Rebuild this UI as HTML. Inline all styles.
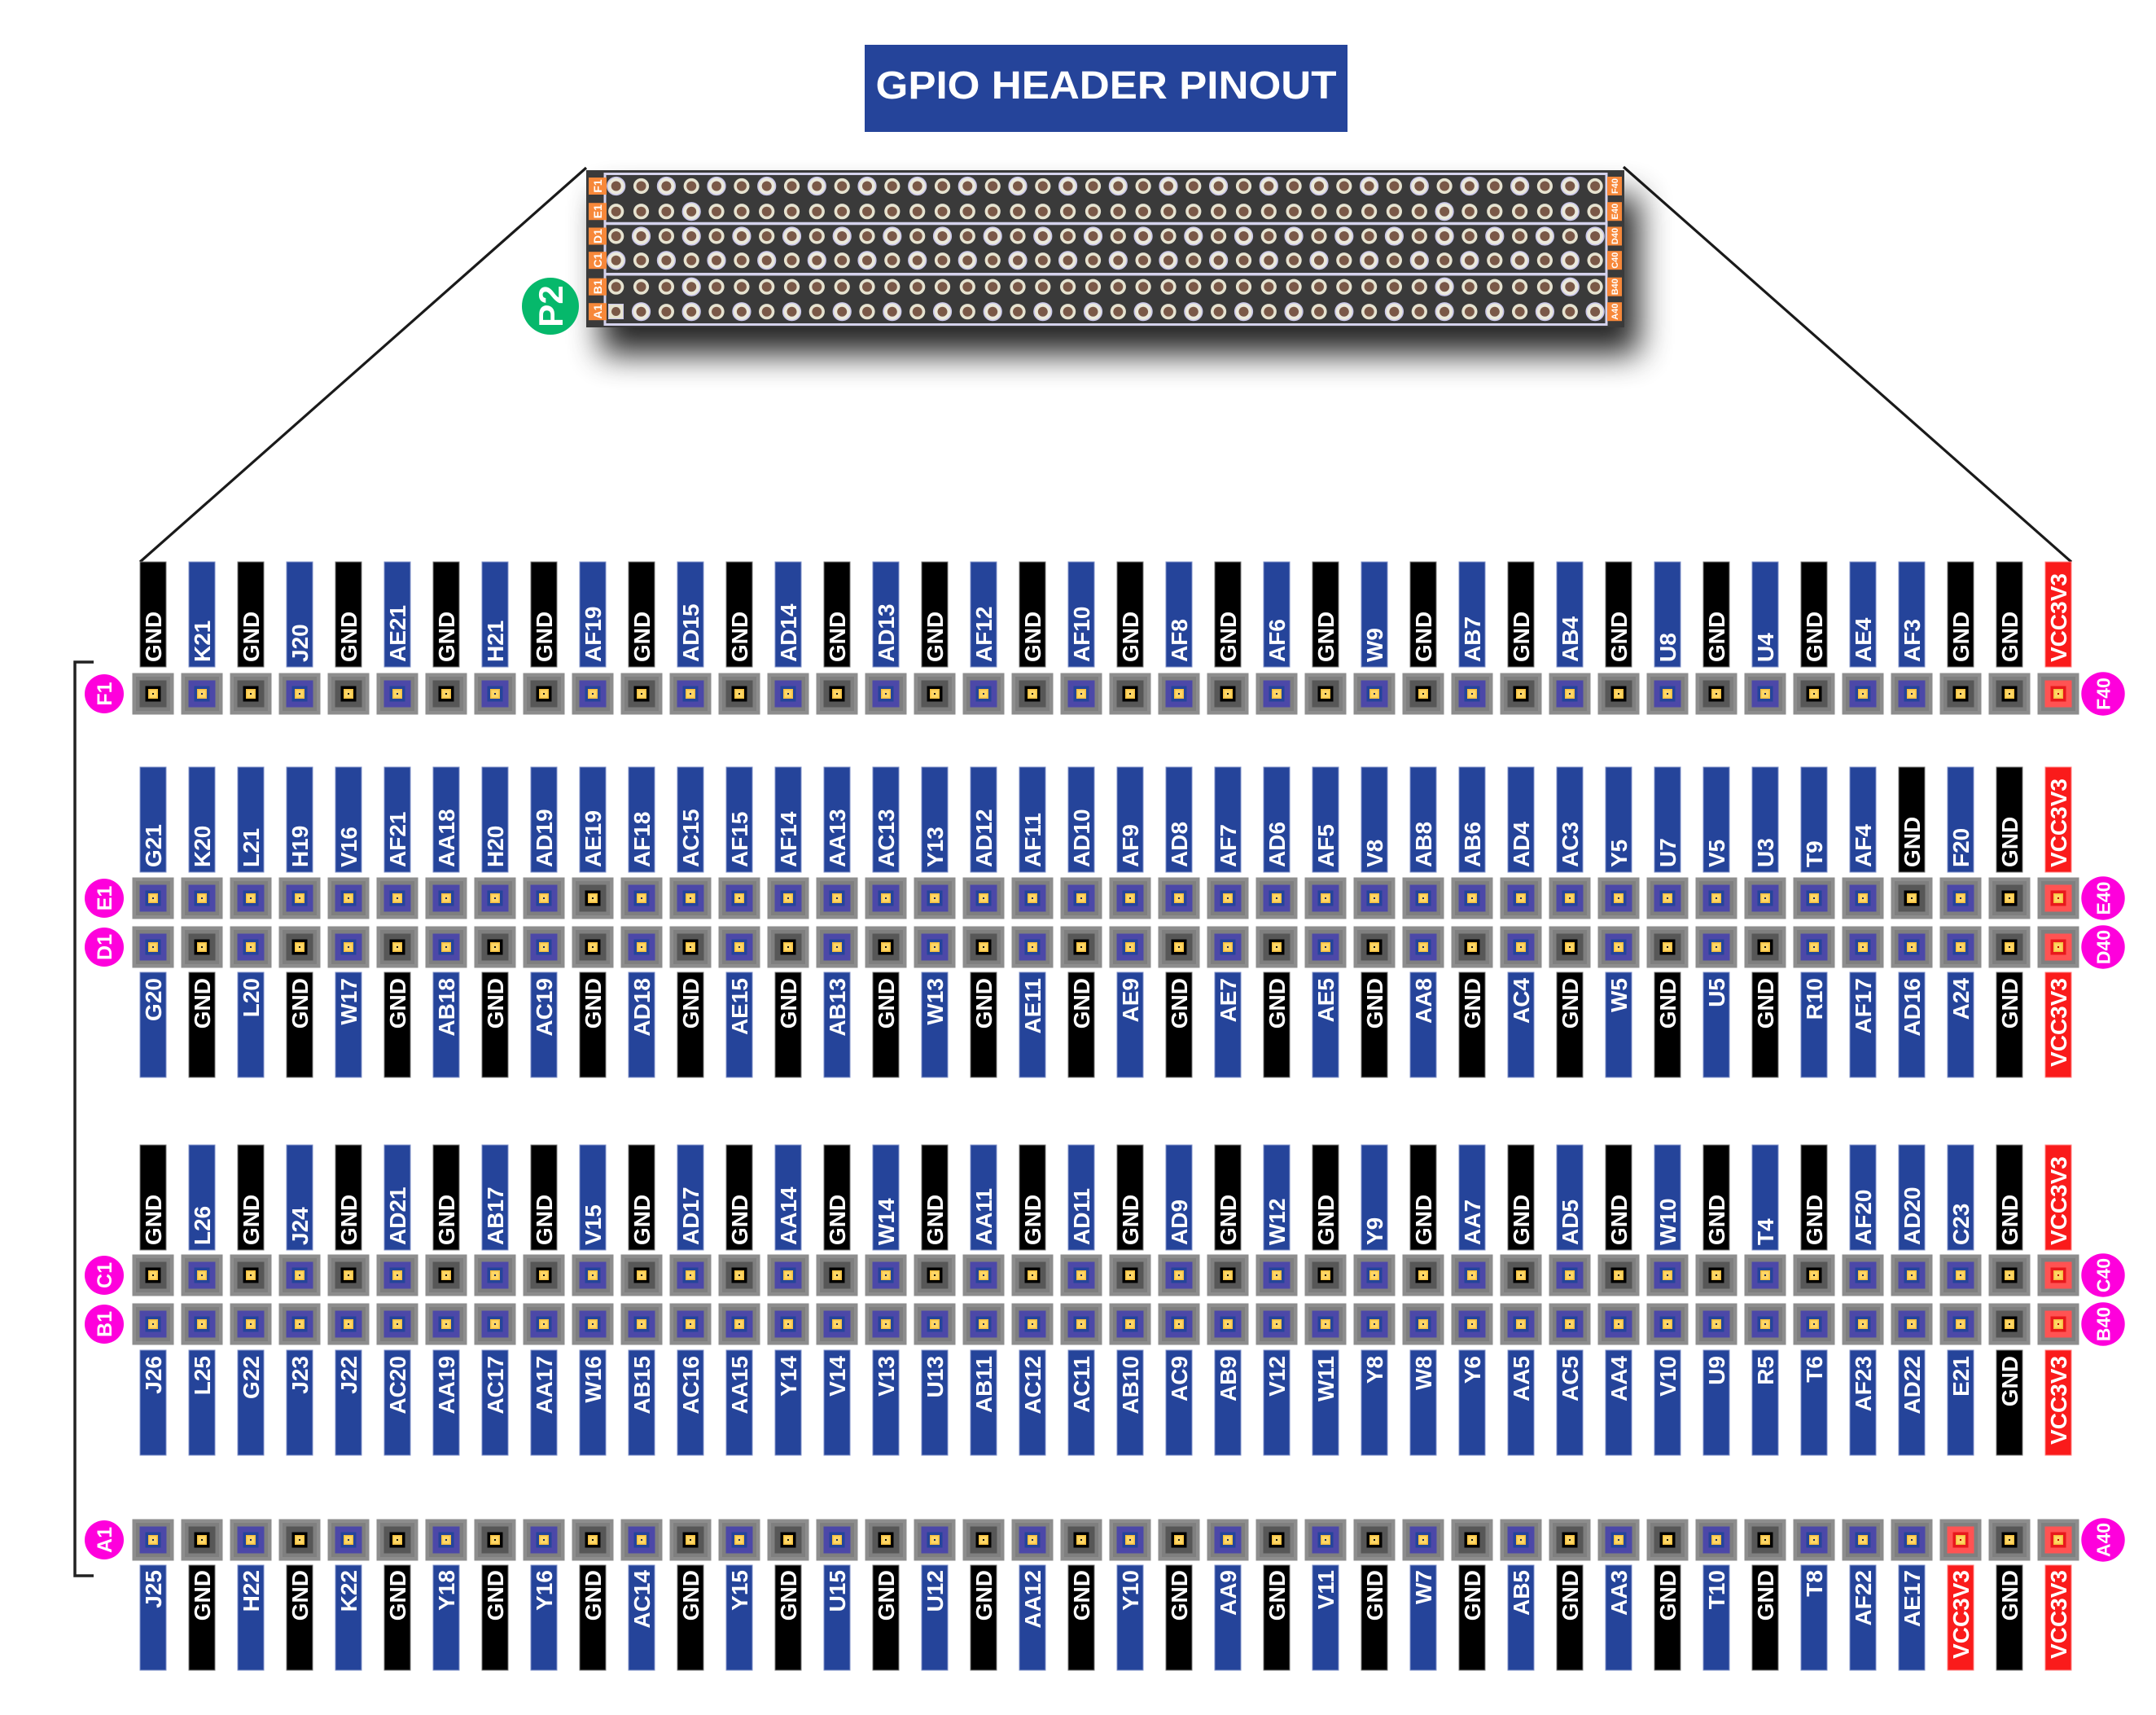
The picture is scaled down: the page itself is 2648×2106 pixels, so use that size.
<!DOCTYPE html>
<html><head><meta charset="utf-8"><title>GPIO Header Pinout</title>
<style>
html,body{margin:0;padding:0;background:#fff;}
svg{display:block;}
.b{fill:#25449a;stroke:#7f90c8;stroke-width:1;}
.k{fill:#000;stroke:#777;stroke-width:1;}
.r{fill:#fa1b1b;stroke:#ff8080;stroke-width:1;}
.t text{font-family:"Liberation Sans",sans-serif;font-weight:bold;font-size:28px;fill:#fff;}
.lab text{font-family:"Liberation Sans",sans-serif;font-weight:bold;fill:#fff;}
</style></head>
<body>
<svg width="2648" height="2106" viewBox="0 0 2648 2106" xmlns="http://www.w3.org/2000/svg">
<defs>
<g id="ps"><rect x="-25.5" y="-25.5" width="51" height="51" fill="#8d8d8d"/><rect x="-21" y="-21" width="42" height="42" fill="#7f7f7f"/><rect x="-16.5" y="-16.5" width="33" height="33" fill="#4c48a8"/><rect x="-9.5" y="-9.5" width="19" height="19" fill="#25449a"/><rect x="-6" y="-6" width="12" height="12" fill="#f5c040"/><rect x="-4.5" y="-4.5" width="9" height="9" fill="#ffd766"/><rect x="-1" y="-1" width="2" height="2" fill="#1d2a5a"/></g>
<g id="pg"><rect x="-25.5" y="-25.5" width="51" height="51" fill="#8d8d8d"/><rect x="-21" y="-21" width="42" height="42" fill="#7f7f7f"/><rect x="-16.5" y="-16.5" width="33" height="33" fill="#575757"/><rect x="-9.5" y="-9.5" width="19" height="19" fill="#000"/><rect x="-6" y="-6" width="12" height="12" fill="#f5c040"/><rect x="-4.5" y="-4.5" width="9" height="9" fill="#ffd766"/><rect x="-1" y="-1" width="2" height="2" fill="#111"/></g>
<g id="pv"><rect x="-25.5" y="-25.5" width="51" height="51" fill="#8d8d8d"/><rect x="-21" y="-21" width="42" height="42" fill="#7f7f7f"/><rect x="-16.5" y="-16.5" width="33" height="33" fill="#ff5353"/><rect x="-9.5" y="-9.5" width="19" height="19" fill="#e8191c"/><rect x="-6" y="-6" width="12" height="12" fill="#f5c040"/><rect x="-4.5" y="-4.5" width="9" height="9" fill="#ffd766"/><rect x="-1" y="-1" width="2" height="2" fill="#b00"/></g>
<g id="h"><circle r="9.6" fill="#e6e3d0"/><circle r="6" fill="#7a5847"/></g>
<g id="H"><circle r="10.8" fill="#ebe9dc" stroke="#c9c6ea" stroke-width="1.6"/><circle r="6" fill="#7a5847"/></g>
<g id="hrA">
<use href="#H" x="756.7"/><use href="#h" x="787.5"/><use href="#H" x="818.4"/><use href="#h" x="849.2"/><use href="#H" x="880"/><use href="#h" x="910.9"/><use href="#H" x="941.7"/><use href="#h" x="972.5"/><use href="#H" x="1003.3"/><use href="#h" x="1034.2"/><use href="#H" x="1065"/><use href="#h" x="1095.8"/><use href="#H" x="1126.7"/><use href="#h" x="1157.5"/><use href="#H" x="1188.3"/><use href="#h" x="1219.2"/><use href="#H" x="1250"/><use href="#h" x="1280.8"/><use href="#H" x="1311.6"/><use href="#h" x="1342.5"/><use href="#H" x="1373.3"/><use href="#h" x="1404.1"/><use href="#H" x="1435"/><use href="#h" x="1465.8"/><use href="#H" x="1496.6"/><use href="#h" x="1527.5"/><use href="#H" x="1558.3"/><use href="#h" x="1589.1"/><use href="#H" x="1620"/><use href="#h" x="1650.8"/><use href="#H" x="1681.6"/><use href="#h" x="1712.4"/><use href="#H" x="1743.3"/><use href="#h" x="1774.1"/><use href="#H" x="1804.9"/><use href="#h" x="1835.8"/><use href="#H" x="1866.6"/><use href="#h" x="1897.4"/><use href="#H" x="1928.3"/><use href="#h" x="1959.1"/>
</g>
<g id="hrB">
<use href="#h" x="756.7"/><use href="#H" x="787.5"/><use href="#h" x="818.4"/><use href="#H" x="849.2"/><use href="#h" x="880"/><use href="#H" x="910.9"/><use href="#h" x="941.7"/><use href="#H" x="972.5"/><use href="#h" x="1003.3"/><use href="#H" x="1034.2"/><use href="#h" x="1065"/><use href="#H" x="1095.8"/><use href="#h" x="1126.7"/><use href="#H" x="1157.5"/><use href="#h" x="1188.3"/><use href="#H" x="1219.2"/><use href="#h" x="1250"/><use href="#H" x="1280.8"/><use href="#h" x="1311.6"/><use href="#H" x="1342.5"/><use href="#h" x="1373.3"/><use href="#H" x="1404.1"/><use href="#h" x="1435"/><use href="#H" x="1465.8"/><use href="#h" x="1496.6"/><use href="#H" x="1527.5"/><use href="#h" x="1558.3"/><use href="#H" x="1589.1"/><use href="#h" x="1620"/><use href="#H" x="1650.8"/><use href="#h" x="1681.6"/><use href="#H" x="1712.4"/><use href="#h" x="1743.3"/><use href="#H" x="1774.1"/><use href="#h" x="1804.9"/><use href="#H" x="1835.8"/><use href="#h" x="1866.6"/><use href="#H" x="1897.4"/><use href="#h" x="1928.3"/><use href="#H" x="1959.1"/>
</g>
<g id="hrC">
<use href="#h" x="756.7"/><use href="#h" x="787.5"/><use href="#h" x="818.4"/><use href="#H" x="849.2"/><use href="#h" x="880"/><use href="#h" x="910.9"/><use href="#h" x="941.7"/><use href="#h" x="972.5"/><use href="#h" x="1003.3"/><use href="#h" x="1034.2"/><use href="#h" x="1065"/><use href="#h" x="1095.8"/><use href="#h" x="1126.7"/><use href="#h" x="1157.5"/><use href="#h" x="1188.3"/><use href="#h" x="1219.2"/><use href="#h" x="1250"/><use href="#h" x="1280.8"/><use href="#h" x="1311.6"/><use href="#h" x="1342.5"/><use href="#h" x="1373.3"/><use href="#h" x="1404.1"/><use href="#h" x="1435"/><use href="#h" x="1465.8"/><use href="#h" x="1496.6"/><use href="#h" x="1527.5"/><use href="#h" x="1558.3"/><use href="#h" x="1589.1"/><use href="#h" x="1620"/><use href="#h" x="1650.8"/><use href="#h" x="1681.6"/><use href="#h" x="1712.4"/><use href="#h" x="1743.3"/><use href="#H" x="1774.1"/><use href="#h" x="1804.9"/><use href="#h" x="1835.8"/><use href="#h" x="1866.6"/><use href="#h" x="1897.4"/><use href="#H" x="1928.3"/><use href="#h" x="1959.1"/>
</g>
<filter id="sh" x="-10%" y="-50%" width="120%" height="200%"><feGaussianBlur stdDeviation="20"/></filter>
</defs>

<!-- Title -->
<rect x="1062" y="55" width="593" height="107" fill="#25449a"/>
<text x="1358.5" y="121" font-family="Liberation Sans, sans-serif" font-weight="bold" font-size="48" fill="#fff" text-anchor="middle" textLength="566" lengthAdjust="spacingAndGlyphs">GPIO HEADER PINOUT</text>

<!-- Connector lines -->
<line x1="172" y1="690" x2="720" y2="206" stroke="#1a1a1a" stroke-width="3.2"/>
<line x1="2544" y1="690" x2="1994" y2="205" stroke="#1a1a1a" stroke-width="3.2"/>

<!-- Board -->
<rect x="738" y="240" width="1275" height="195" fill="#000" opacity="0.85" filter="url(#sh)"/>
<rect x="720" y="209" width="1275" height="193" fill="#3a3a3a"/>
<rect x="743" y="213.5" width="1230" height="185" fill="none" stroke="#d4d2ec" stroke-width="3"/>
<line x1="743" y1="274.5" x2="1973" y2="274.5" stroke="#d4d2ec" stroke-width="3.5"/>
<line x1="743" y1="336.7" x2="1973" y2="336.7" stroke="#d4d2ec" stroke-width="3.5"/>
<use href="#hrA" y="228.5"/>
<use href="#hrC" y="259.7"/>
<use href="#hrB" y="290"/>
<use href="#hrA" y="319.7"/>
<use href="#hrC" y="352.2"/>
<use href="#hrB" y="382.7"/>
<rect x="745.5" y="371.5" width="22" height="22" fill="#3a3a3a"/>
<rect x="747.5" y="373.5" width="18" height="18" fill="#e6e3d0" stroke="#c9c6ea" stroke-width="1"/>
<circle cx="756.5" cy="382.5" r="5.5" fill="#7a5847"/>

<!-- orange side labels -->
<g fill="#f7883a">
<rect x="723" y="218" width="22" height="21"/><rect x="723" y="249.2" width="22" height="21"/><rect x="723" y="279.5" width="22" height="21"/><rect x="723" y="309.2" width="22" height="21"/><rect x="723" y="341.7" width="22" height="21"/><rect x="723" y="372.2" width="22" height="21"/>
<rect x="1974" y="217" width="18" height="23"/><rect x="1974" y="248.2" width="18" height="23"/><rect x="1974" y="278.5" width="18" height="23"/><rect x="1974" y="308.2" width="18" height="23"/><rect x="1974" y="340.7" width="18" height="23"/><rect x="1974" y="371.2" width="18" height="23"/>
</g>
<g class="lab" transform="rotate(-90)" text-anchor="middle" font-size="14">
<text x="-228.5" y="739">F1</text><text x="-259.7" y="739">E1</text><text x="-290" y="739">D1</text><text x="-319.7" y="739">C1</text><text x="-352.2" y="739">B1</text><text x="-382.7" y="739">A1</text>
</g>
<g class="lab" transform="rotate(-90)" text-anchor="middle" font-size="11">
<text x="-228.5" y="1987">F40</text><text x="-259.7" y="1987">E40</text><text x="-290" y="1987">D40</text><text x="-319.7" y="1987">C40</text><text x="-352.2" y="1987">B40</text><text x="-382.7" y="1987">A40</text>
</g>

<!-- P2 badge -->
<circle cx="676" cy="376" r="35" fill="#06b86b"/>
<g class="lab" transform="rotate(-90)" text-anchor="middle" font-size="42"><text x="-376" y="691">P2</text></g>

<!-- Bracket -->
<path d="M115 813 H92 V1935 H115" fill="none" stroke="#222" stroke-width="3.5"/>

<!-- Row badges -->
<g fill="#fe00dc">
<circle cx="128" cy="852" r="24"/><circle cx="128" cy="1103" r="24"/><circle cx="128" cy="1163" r="24"/><circle cx="128" cy="1566" r="24"/><circle cx="128" cy="1626" r="24"/><circle cx="128" cy="1891" r="24"/>
<circle cx="2583" cy="852" r="26.7"/><circle cx="2583" cy="1103" r="26.7"/><circle cx="2583" cy="1163" r="26.7"/><circle cx="2583" cy="1566" r="26.7"/><circle cx="2583" cy="1626" r="26.7"/><circle cx="2583" cy="1891" r="26.7"/>
</g>
<g class="lab" transform="rotate(-90)" text-anchor="middle" font-size="25">
<text x="-852" y="137">F1</text><text x="-1103" y="137">E1</text><text x="-1163" y="137">D1</text><text x="-1566" y="137">C1</text><text x="-1626" y="137">B1</text><text x="-1891" y="137">A1</text>
</g>
<g class="lab" transform="rotate(-90)" text-anchor="middle" font-size="23">
<text x="-852" y="2591.5">F40</text><text x="-1103" y="2591.5">E40</text><text x="-1163" y="2591.5">D40</text><text x="-1566" y="2591.5">C40</text><text x="-1626" y="2591.5">B40</text><text x="-1891" y="2591.5">A40</text>
</g>

<!-- ===== ROW F bars ===== -->
<g>
<rect x="172" y="690" width="32" height="129" class="k"/><rect x="232" y="690" width="32" height="129" class="b"/><rect x="292" y="690" width="32" height="129" class="k"/><rect x="352" y="690" width="32" height="129" class="b"/><rect x="412" y="690" width="32" height="129" class="k"/><rect x="472" y="690" width="32" height="129" class="b"/><rect x="532" y="690" width="32" height="129" class="k"/><rect x="592" y="690" width="32" height="129" class="b"/><rect x="652" y="690" width="32" height="129" class="k"/><rect x="712" y="690" width="32" height="129" class="b"/><rect x="772" y="690" width="32" height="129" class="k"/><rect x="832" y="690" width="32" height="129" class="b"/><rect x="892" y="690" width="32" height="129" class="k"/><rect x="952" y="690" width="32" height="129" class="b"/><rect x="1012" y="690" width="32" height="129" class="k"/><rect x="1072" y="690" width="32" height="129" class="b"/><rect x="1132" y="690" width="32" height="129" class="k"/><rect x="1192" y="690" width="32" height="129" class="b"/><rect x="1252" y="690" width="32" height="129" class="k"/><rect x="1312" y="690" width="32" height="129" class="b"/><rect x="1372" y="690" width="32" height="129" class="k"/><rect x="1432" y="690" width="32" height="129" class="b"/><rect x="1492" y="690" width="32" height="129" class="k"/><rect x="1552" y="690" width="32" height="129" class="b"/><rect x="1612" y="690" width="32" height="129" class="k"/><rect x="1672" y="690" width="32" height="129" class="b"/><rect x="1732" y="690" width="32" height="129" class="k"/><rect x="1792" y="690" width="32" height="129" class="b"/><rect x="1852" y="690" width="32" height="129" class="k"/><rect x="1912" y="690" width="32" height="129" class="b"/><rect x="1972" y="690" width="32" height="129" class="k"/><rect x="2032" y="690" width="32" height="129" class="b"/><rect x="2092" y="690" width="32" height="129" class="k"/><rect x="2152" y="690" width="32" height="129" class="b"/><rect x="2212" y="690" width="32" height="129" class="k"/><rect x="2272" y="690" width="32" height="129" class="b"/><rect x="2332" y="690" width="32" height="129" class="b"/><rect x="2392" y="690" width="32" height="129" class="k"/><rect x="2452" y="690" width="32" height="129" class="k"/><rect x="2512" y="690" width="32" height="129" class="r"/>
</g>
<g class="t" transform="rotate(-90)">
<text x="-813" y="198">GND</text><text x="-813" y="258">K21</text><text x="-813" y="318">GND</text><text x="-813" y="378">J20</text><text x="-813" y="438">GND</text><text x="-813" y="498">AE21</text><text x="-813" y="558">GND</text><text x="-813" y="618">H21</text><text x="-813" y="678">GND</text><text x="-813" y="738">AF19</text><text x="-813" y="798">GND</text><text x="-813" y="858">AD15</text><text x="-813" y="918">GND</text><text x="-813" y="978">AD14</text><text x="-813" y="1038">GND</text><text x="-813" y="1098">AD13</text><text x="-813" y="1158">GND</text><text x="-813" y="1218">AF12</text><text x="-813" y="1278">GND</text><text x="-813" y="1338">AF10</text><text x="-813" y="1398">GND</text><text x="-813" y="1458">AF8</text><text x="-813" y="1518">GND</text><text x="-813" y="1578">AF6</text><text x="-813" y="1638">GND</text><text x="-813" y="1698">W9</text><text x="-813" y="1758">GND</text><text x="-813" y="1818">AB7</text><text x="-813" y="1878">GND</text><text x="-813" y="1938">AB4</text><text x="-813" y="1998">GND</text><text x="-813" y="2058">U8</text><text x="-813" y="2118">GND</text><text x="-813" y="2178">U4</text><text x="-813" y="2238">GND</text><text x="-813" y="2298">AE4</text><text x="-813" y="2358">AF3</text><text x="-813" y="2418">GND</text><text x="-813" y="2478">GND</text><text x="-813" y="2538">VCC3V3</text>
</g>
<g>
<use href="#pg" x="188" y="852"/><use href="#ps" x="248" y="852"/><use href="#pg" x="308" y="852"/><use href="#ps" x="368" y="852"/><use href="#pg" x="428" y="852"/><use href="#ps" x="488" y="852"/><use href="#pg" x="548" y="852"/><use href="#ps" x="608" y="852"/><use href="#pg" x="668" y="852"/><use href="#ps" x="728" y="852"/><use href="#pg" x="788" y="852"/><use href="#ps" x="848" y="852"/><use href="#pg" x="908" y="852"/><use href="#ps" x="968" y="852"/><use href="#pg" x="1028" y="852"/><use href="#ps" x="1088" y="852"/><use href="#pg" x="1148" y="852"/><use href="#ps" x="1208" y="852"/><use href="#pg" x="1268" y="852"/><use href="#ps" x="1328" y="852"/><use href="#pg" x="1388" y="852"/><use href="#ps" x="1448" y="852"/><use href="#pg" x="1508" y="852"/><use href="#ps" x="1568" y="852"/><use href="#pg" x="1628" y="852"/><use href="#ps" x="1688" y="852"/><use href="#pg" x="1748" y="852"/><use href="#ps" x="1808" y="852"/><use href="#pg" x="1868" y="852"/><use href="#ps" x="1928" y="852"/><use href="#pg" x="1988" y="852"/><use href="#ps" x="2048" y="852"/><use href="#pg" x="2108" y="852"/><use href="#ps" x="2168" y="852"/><use href="#pg" x="2228" y="852"/><use href="#ps" x="2288" y="852"/><use href="#ps" x="2348" y="852"/><use href="#pg" x="2408" y="852"/><use href="#pg" x="2468" y="852"/><use href="#pv" x="2528" y="852"/>
</g>

<!-- ===== ROW E ===== -->
<g>
<rect x="172" y="942" width="32" height="129" class="b"/><rect x="232" y="942" width="32" height="129" class="b"/><rect x="292" y="942" width="32" height="129" class="b"/><rect x="352" y="942" width="32" height="129" class="b"/><rect x="412" y="942" width="32" height="129" class="b"/><rect x="472" y="942" width="32" height="129" class="b"/><rect x="532" y="942" width="32" height="129" class="b"/><rect x="592" y="942" width="32" height="129" class="b"/><rect x="652" y="942" width="32" height="129" class="b"/><rect x="712" y="942" width="32" height="129" class="b"/><rect x="772" y="942" width="32" height="129" class="b"/><rect x="832" y="942" width="32" height="129" class="b"/><rect x="892" y="942" width="32" height="129" class="b"/><rect x="952" y="942" width="32" height="129" class="b"/><rect x="1012" y="942" width="32" height="129" class="b"/><rect x="1072" y="942" width="32" height="129" class="b"/><rect x="1132" y="942" width="32" height="129" class="b"/><rect x="1192" y="942" width="32" height="129" class="b"/><rect x="1252" y="942" width="32" height="129" class="b"/><rect x="1312" y="942" width="32" height="129" class="b"/><rect x="1372" y="942" width="32" height="129" class="b"/><rect x="1432" y="942" width="32" height="129" class="b"/><rect x="1492" y="942" width="32" height="129" class="b"/><rect x="1552" y="942" width="32" height="129" class="b"/><rect x="1612" y="942" width="32" height="129" class="b"/><rect x="1672" y="942" width="32" height="129" class="b"/><rect x="1732" y="942" width="32" height="129" class="b"/><rect x="1792" y="942" width="32" height="129" class="b"/><rect x="1852" y="942" width="32" height="129" class="b"/><rect x="1912" y="942" width="32" height="129" class="b"/><rect x="1972" y="942" width="32" height="129" class="b"/><rect x="2032" y="942" width="32" height="129" class="b"/><rect x="2092" y="942" width="32" height="129" class="b"/><rect x="2152" y="942" width="32" height="129" class="b"/><rect x="2212" y="942" width="32" height="129" class="b"/><rect x="2272" y="942" width="32" height="129" class="b"/><rect x="2332" y="942" width="32" height="129" class="k"/><rect x="2392" y="942" width="32" height="129" class="b"/><rect x="2452" y="942" width="32" height="129" class="k"/><rect x="2512" y="942" width="32" height="129" class="r"/>
</g>
<g class="t" transform="rotate(-90)">
<text x="-1065" y="198">G21</text><text x="-1065" y="258">K20</text><text x="-1065" y="318">L21</text><text x="-1065" y="378">H19</text><text x="-1065" y="438">V16</text><text x="-1065" y="498">AF21</text><text x="-1065" y="558">AA18</text><text x="-1065" y="618">H20</text><text x="-1065" y="678">AD19</text><text x="-1065" y="738">AE19</text><text x="-1065" y="798">AF18</text><text x="-1065" y="858">AC15</text><text x="-1065" y="918">AF15</text><text x="-1065" y="978">AF14</text><text x="-1065" y="1038">AA13</text><text x="-1065" y="1098">AC13</text><text x="-1065" y="1158">Y13</text><text x="-1065" y="1218">AD12</text><text x="-1065" y="1278">AF11</text><text x="-1065" y="1338">AD10</text><text x="-1065" y="1398">AF9</text><text x="-1065" y="1458">AD8</text><text x="-1065" y="1518">AF7</text><text x="-1065" y="1578">AD6</text><text x="-1065" y="1638">AF5</text><text x="-1065" y="1698">V8</text><text x="-1065" y="1758">AB8</text><text x="-1065" y="1818">AB6</text><text x="-1065" y="1878">AD4</text><text x="-1065" y="1938">AC3</text><text x="-1065" y="1998">Y5</text><text x="-1065" y="2058">U7</text><text x="-1065" y="2118">V5</text><text x="-1065" y="2178">U3</text><text x="-1065" y="2238">T9</text><text x="-1065" y="2298">AF4</text><text x="-1065" y="2358">GND</text><text x="-1065" y="2418">F20</text><text x="-1065" y="2478">GND</text><text x="-1065" y="2538">VCC3V3</text>
</g>
<g>
<use href="#ps" x="188" y="1103"/><use href="#ps" x="248" y="1103"/><use href="#ps" x="308" y="1103"/><use href="#ps" x="368" y="1103"/><use href="#ps" x="428" y="1103"/><use href="#ps" x="488" y="1103"/><use href="#ps" x="548" y="1103"/><use href="#ps" x="608" y="1103"/><use href="#ps" x="668" y="1103"/><use href="#pg" x="728" y="1103"/><use href="#ps" x="788" y="1103"/><use href="#ps" x="848" y="1103"/><use href="#ps" x="908" y="1103"/><use href="#ps" x="968" y="1103"/><use href="#ps" x="1028" y="1103"/><use href="#ps" x="1088" y="1103"/><use href="#ps" x="1148" y="1103"/><use href="#ps" x="1208" y="1103"/><use href="#ps" x="1268" y="1103"/><use href="#ps" x="1328" y="1103"/><use href="#ps" x="1388" y="1103"/><use href="#ps" x="1448" y="1103"/><use href="#ps" x="1508" y="1103"/><use href="#ps" x="1568" y="1103"/><use href="#ps" x="1628" y="1103"/><use href="#ps" x="1688" y="1103"/><use href="#ps" x="1748" y="1103"/><use href="#ps" x="1808" y="1103"/><use href="#ps" x="1868" y="1103"/><use href="#ps" x="1928" y="1103"/><use href="#ps" x="1988" y="1103"/><use href="#ps" x="2048" y="1103"/><use href="#ps" x="2108" y="1103"/><use href="#ps" x="2168" y="1103"/><use href="#ps" x="2228" y="1103"/><use href="#ps" x="2288" y="1103"/><use href="#pg" x="2348" y="1103"/><use href="#ps" x="2408" y="1103"/><use href="#pg" x="2468" y="1103"/><use href="#pv" x="2528" y="1103"/>
</g>

<!-- ===== ROW D ===== -->
<g>
<use href="#ps" x="188" y="1163"/><use href="#pg" x="248" y="1163"/><use href="#ps" x="308" y="1163"/><use href="#pg" x="368" y="1163"/><use href="#ps" x="428" y="1163"/><use href="#pg" x="488" y="1163"/><use href="#ps" x="548" y="1163"/><use href="#pg" x="608" y="1163"/><use href="#ps" x="668" y="1163"/><use href="#pg" x="728" y="1163"/><use href="#ps" x="788" y="1163"/><use href="#pg" x="848" y="1163"/><use href="#ps" x="908" y="1163"/><use href="#pg" x="968" y="1163"/><use href="#ps" x="1028" y="1163"/><use href="#pg" x="1088" y="1163"/><use href="#ps" x="1148" y="1163"/><use href="#pg" x="1208" y="1163"/><use href="#ps" x="1268" y="1163"/><use href="#pg" x="1328" y="1163"/><use href="#ps" x="1388" y="1163"/><use href="#pg" x="1448" y="1163"/><use href="#ps" x="1508" y="1163"/><use href="#pg" x="1568" y="1163"/><use href="#ps" x="1628" y="1163"/><use href="#pg" x="1688" y="1163"/><use href="#ps" x="1748" y="1163"/><use href="#pg" x="1808" y="1163"/><use href="#ps" x="1868" y="1163"/><use href="#pg" x="1928" y="1163"/><use href="#ps" x="1988" y="1163"/><use href="#pg" x="2048" y="1163"/><use href="#ps" x="2108" y="1163"/><use href="#pg" x="2168" y="1163"/><use href="#ps" x="2228" y="1163"/><use href="#ps" x="2288" y="1163"/><use href="#ps" x="2348" y="1163"/><use href="#ps" x="2408" y="1163"/><use href="#pg" x="2468" y="1163"/><use href="#pv" x="2528" y="1163"/>
</g>
<g>
<rect x="172" y="1194" width="32" height="129" class="b"/><rect x="232" y="1194" width="32" height="129" class="k"/><rect x="292" y="1194" width="32" height="129" class="b"/><rect x="352" y="1194" width="32" height="129" class="k"/><rect x="412" y="1194" width="32" height="129" class="b"/><rect x="472" y="1194" width="32" height="129" class="k"/><rect x="532" y="1194" width="32" height="129" class="b"/><rect x="592" y="1194" width="32" height="129" class="k"/><rect x="652" y="1194" width="32" height="129" class="b"/><rect x="712" y="1194" width="32" height="129" class="k"/><rect x="772" y="1194" width="32" height="129" class="b"/><rect x="832" y="1194" width="32" height="129" class="k"/><rect x="892" y="1194" width="32" height="129" class="b"/><rect x="952" y="1194" width="32" height="129" class="k"/><rect x="1012" y="1194" width="32" height="129" class="b"/><rect x="1072" y="1194" width="32" height="129" class="k"/><rect x="1132" y="1194" width="32" height="129" class="b"/><rect x="1192" y="1194" width="32" height="129" class="k"/><rect x="1252" y="1194" width="32" height="129" class="b"/><rect x="1312" y="1194" width="32" height="129" class="k"/><rect x="1372" y="1194" width="32" height="129" class="b"/><rect x="1432" y="1194" width="32" height="129" class="k"/><rect x="1492" y="1194" width="32" height="129" class="b"/><rect x="1552" y="1194" width="32" height="129" class="k"/><rect x="1612" y="1194" width="32" height="129" class="b"/><rect x="1672" y="1194" width="32" height="129" class="k"/><rect x="1732" y="1194" width="32" height="129" class="b"/><rect x="1792" y="1194" width="32" height="129" class="k"/><rect x="1852" y="1194" width="32" height="129" class="b"/><rect x="1912" y="1194" width="32" height="129" class="k"/><rect x="1972" y="1194" width="32" height="129" class="b"/><rect x="2032" y="1194" width="32" height="129" class="k"/><rect x="2092" y="1194" width="32" height="129" class="b"/><rect x="2152" y="1194" width="32" height="129" class="k"/><rect x="2212" y="1194" width="32" height="129" class="b"/><rect x="2272" y="1194" width="32" height="129" class="b"/><rect x="2332" y="1194" width="32" height="129" class="b"/><rect x="2392" y="1194" width="32" height="129" class="b"/><rect x="2452" y="1194" width="32" height="129" class="k"/><rect x="2512" y="1194" width="32" height="129" class="r"/>
</g>
<g class="t" transform="rotate(-90)" text-anchor="end">
<text x="-1201" y="198">G20</text><text x="-1201" y="258">GND</text><text x="-1201" y="318">L20</text><text x="-1201" y="378">GND</text><text x="-1201" y="438">W17</text><text x="-1201" y="498">GND</text><text x="-1201" y="558">AB18</text><text x="-1201" y="618">GND</text><text x="-1201" y="678">AC19</text><text x="-1201" y="738">GND</text><text x="-1201" y="798">AD18</text><text x="-1201" y="858">GND</text><text x="-1201" y="918">AE15</text><text x="-1201" y="978">GND</text><text x="-1201" y="1038">AB13</text><text x="-1201" y="1098">GND</text><text x="-1201" y="1158">W13</text><text x="-1201" y="1218">GND</text><text x="-1201" y="1278">AE11</text><text x="-1201" y="1338">GND</text><text x="-1201" y="1398">AE9</text><text x="-1201" y="1458">GND</text><text x="-1201" y="1518">AE7</text><text x="-1201" y="1578">GND</text><text x="-1201" y="1638">AE5</text><text x="-1201" y="1698">GND</text><text x="-1201" y="1758">AA8</text><text x="-1201" y="1818">GND</text><text x="-1201" y="1878">AC4</text><text x="-1201" y="1938">GND</text><text x="-1201" y="1998">W5</text><text x="-1201" y="2058">GND</text><text x="-1201" y="2118">U5</text><text x="-1201" y="2178">GND</text><text x="-1201" y="2238">R10</text><text x="-1201" y="2298">AF17</text><text x="-1201" y="2358">AD16</text><text x="-1201" y="2418">A24</text><text x="-1201" y="2478">GND</text><text x="-1201" y="2538">VCC3V3</text>
</g>

<!-- ===== ROW C ===== -->
<g>
<rect x="172" y="1406" width="32" height="129" class="k"/><rect x="232" y="1406" width="32" height="129" class="b"/><rect x="292" y="1406" width="32" height="129" class="k"/><rect x="352" y="1406" width="32" height="129" class="b"/><rect x="412" y="1406" width="32" height="129" class="k"/><rect x="472" y="1406" width="32" height="129" class="b"/><rect x="532" y="1406" width="32" height="129" class="k"/><rect x="592" y="1406" width="32" height="129" class="b"/><rect x="652" y="1406" width="32" height="129" class="k"/><rect x="712" y="1406" width="32" height="129" class="b"/><rect x="772" y="1406" width="32" height="129" class="k"/><rect x="832" y="1406" width="32" height="129" class="b"/><rect x="892" y="1406" width="32" height="129" class="k"/><rect x="952" y="1406" width="32" height="129" class="b"/><rect x="1012" y="1406" width="32" height="129" class="k"/><rect x="1072" y="1406" width="32" height="129" class="b"/><rect x="1132" y="1406" width="32" height="129" class="k"/><rect x="1192" y="1406" width="32" height="129" class="b"/><rect x="1252" y="1406" width="32" height="129" class="k"/><rect x="1312" y="1406" width="32" height="129" class="b"/><rect x="1372" y="1406" width="32" height="129" class="k"/><rect x="1432" y="1406" width="32" height="129" class="b"/><rect x="1492" y="1406" width="32" height="129" class="k"/><rect x="1552" y="1406" width="32" height="129" class="b"/><rect x="1612" y="1406" width="32" height="129" class="k"/><rect x="1672" y="1406" width="32" height="129" class="b"/><rect x="1732" y="1406" width="32" height="129" class="k"/><rect x="1792" y="1406" width="32" height="129" class="b"/><rect x="1852" y="1406" width="32" height="129" class="k"/><rect x="1912" y="1406" width="32" height="129" class="b"/><rect x="1972" y="1406" width="32" height="129" class="k"/><rect x="2032" y="1406" width="32" height="129" class="b"/><rect x="2092" y="1406" width="32" height="129" class="k"/><rect x="2152" y="1406" width="32" height="129" class="b"/><rect x="2212" y="1406" width="32" height="129" class="k"/><rect x="2272" y="1406" width="32" height="129" class="b"/><rect x="2332" y="1406" width="32" height="129" class="b"/><rect x="2392" y="1406" width="32" height="129" class="b"/><rect x="2452" y="1406" width="32" height="129" class="k"/><rect x="2512" y="1406" width="32" height="129" class="r"/>
</g>
<g class="t" transform="rotate(-90)">
<text x="-1529" y="198">GND</text><text x="-1529" y="258">L26</text><text x="-1529" y="318">GND</text><text x="-1529" y="378">J24</text><text x="-1529" y="438">GND</text><text x="-1529" y="498">AD21</text><text x="-1529" y="558">GND</text><text x="-1529" y="618">AB17</text><text x="-1529" y="678">GND</text><text x="-1529" y="738">V15</text><text x="-1529" y="798">GND</text><text x="-1529" y="858">AD17</text><text x="-1529" y="918">GND</text><text x="-1529" y="978">AA14</text><text x="-1529" y="1038">GND</text><text x="-1529" y="1098">W14</text><text x="-1529" y="1158">GND</text><text x="-1529" y="1218">AA11</text><text x="-1529" y="1278">GND</text><text x="-1529" y="1338">AD11</text><text x="-1529" y="1398">GND</text><text x="-1529" y="1458">AD9</text><text x="-1529" y="1518">GND</text><text x="-1529" y="1578">W12</text><text x="-1529" y="1638">GND</text><text x="-1529" y="1698">Y9</text><text x="-1529" y="1758">GND</text><text x="-1529" y="1818">AA7</text><text x="-1529" y="1878">GND</text><text x="-1529" y="1938">AD5</text><text x="-1529" y="1998">GND</text><text x="-1529" y="2058">W10</text><text x="-1529" y="2118">GND</text><text x="-1529" y="2178">T4</text><text x="-1529" y="2238">GND</text><text x="-1529" y="2298">AF20</text><text x="-1529" y="2358">AD20</text><text x="-1529" y="2418">C23</text><text x="-1529" y="2478">GND</text><text x="-1529" y="2538">VCC3V3</text>
</g>
<g>
<use href="#pg" x="188" y="1566"/><use href="#ps" x="248" y="1566"/><use href="#pg" x="308" y="1566"/><use href="#ps" x="368" y="1566"/><use href="#pg" x="428" y="1566"/><use href="#ps" x="488" y="1566"/><use href="#pg" x="548" y="1566"/><use href="#ps" x="608" y="1566"/><use href="#pg" x="668" y="1566"/><use href="#ps" x="728" y="1566"/><use href="#pg" x="788" y="1566"/><use href="#ps" x="848" y="1566"/><use href="#pg" x="908" y="1566"/><use href="#ps" x="968" y="1566"/><use href="#pg" x="1028" y="1566"/><use href="#ps" x="1088" y="1566"/><use href="#pg" x="1148" y="1566"/><use href="#ps" x="1208" y="1566"/><use href="#pg" x="1268" y="1566"/><use href="#ps" x="1328" y="1566"/><use href="#pg" x="1388" y="1566"/><use href="#ps" x="1448" y="1566"/><use href="#pg" x="1508" y="1566"/><use href="#ps" x="1568" y="1566"/><use href="#pg" x="1628" y="1566"/><use href="#ps" x="1688" y="1566"/><use href="#pg" x="1748" y="1566"/><use href="#ps" x="1808" y="1566"/><use href="#pg" x="1868" y="1566"/><use href="#ps" x="1928" y="1566"/><use href="#pg" x="1988" y="1566"/><use href="#ps" x="2048" y="1566"/><use href="#pg" x="2108" y="1566"/><use href="#ps" x="2168" y="1566"/><use href="#pg" x="2228" y="1566"/><use href="#ps" x="2288" y="1566"/><use href="#ps" x="2348" y="1566"/><use href="#ps" x="2408" y="1566"/><use href="#pg" x="2468" y="1566"/><use href="#pv" x="2528" y="1566"/>
</g>

<!-- ===== ROW B ===== -->
<g>
<use href="#ps" x="188" y="1626"/><use href="#ps" x="248" y="1626"/><use href="#ps" x="308" y="1626"/><use href="#ps" x="368" y="1626"/><use href="#ps" x="428" y="1626"/><use href="#ps" x="488" y="1626"/><use href="#ps" x="548" y="1626"/><use href="#ps" x="608" y="1626"/><use href="#ps" x="668" y="1626"/><use href="#ps" x="728" y="1626"/><use href="#ps" x="788" y="1626"/><use href="#ps" x="848" y="1626"/><use href="#ps" x="908" y="1626"/><use href="#ps" x="968" y="1626"/><use href="#ps" x="1028" y="1626"/><use href="#ps" x="1088" y="1626"/><use href="#ps" x="1148" y="1626"/><use href="#ps" x="1208" y="1626"/><use href="#ps" x="1268" y="1626"/><use href="#ps" x="1328" y="1626"/><use href="#ps" x="1388" y="1626"/><use href="#ps" x="1448" y="1626"/><use href="#ps" x="1508" y="1626"/><use href="#ps" x="1568" y="1626"/><use href="#ps" x="1628" y="1626"/><use href="#ps" x="1688" y="1626"/><use href="#ps" x="1748" y="1626"/><use href="#ps" x="1808" y="1626"/><use href="#ps" x="1868" y="1626"/><use href="#ps" x="1928" y="1626"/><use href="#ps" x="1988" y="1626"/><use href="#ps" x="2048" y="1626"/><use href="#ps" x="2108" y="1626"/><use href="#ps" x="2168" y="1626"/><use href="#ps" x="2228" y="1626"/><use href="#ps" x="2288" y="1626"/><use href="#ps" x="2348" y="1626"/><use href="#ps" x="2408" y="1626"/><use href="#pg" x="2468" y="1626"/><use href="#pv" x="2528" y="1626"/>
</g>
<g>
<rect x="172" y="1658" width="32" height="129" class="b"/><rect x="232" y="1658" width="32" height="129" class="b"/><rect x="292" y="1658" width="32" height="129" class="b"/><rect x="352" y="1658" width="32" height="129" class="b"/><rect x="412" y="1658" width="32" height="129" class="b"/><rect x="472" y="1658" width="32" height="129" class="b"/><rect x="532" y="1658" width="32" height="129" class="b"/><rect x="592" y="1658" width="32" height="129" class="b"/><rect x="652" y="1658" width="32" height="129" class="b"/><rect x="712" y="1658" width="32" height="129" class="b"/><rect x="772" y="1658" width="32" height="129" class="b"/><rect x="832" y="1658" width="32" height="129" class="b"/><rect x="892" y="1658" width="32" height="129" class="b"/><rect x="952" y="1658" width="32" height="129" class="b"/><rect x="1012" y="1658" width="32" height="129" class="b"/><rect x="1072" y="1658" width="32" height="129" class="b"/><rect x="1132" y="1658" width="32" height="129" class="b"/><rect x="1192" y="1658" width="32" height="129" class="b"/><rect x="1252" y="1658" width="32" height="129" class="b"/><rect x="1312" y="1658" width="32" height="129" class="b"/><rect x="1372" y="1658" width="32" height="129" class="b"/><rect x="1432" y="1658" width="32" height="129" class="b"/><rect x="1492" y="1658" width="32" height="129" class="b"/><rect x="1552" y="1658" width="32" height="129" class="b"/><rect x="1612" y="1658" width="32" height="129" class="b"/><rect x="1672" y="1658" width="32" height="129" class="b"/><rect x="1732" y="1658" width="32" height="129" class="b"/><rect x="1792" y="1658" width="32" height="129" class="b"/><rect x="1852" y="1658" width="32" height="129" class="b"/><rect x="1912" y="1658" width="32" height="129" class="b"/><rect x="1972" y="1658" width="32" height="129" class="b"/><rect x="2032" y="1658" width="32" height="129" class="b"/><rect x="2092" y="1658" width="32" height="129" class="b"/><rect x="2152" y="1658" width="32" height="129" class="b"/><rect x="2212" y="1658" width="32" height="129" class="b"/><rect x="2272" y="1658" width="32" height="129" class="b"/><rect x="2332" y="1658" width="32" height="129" class="b"/><rect x="2392" y="1658" width="32" height="129" class="b"/><rect x="2452" y="1658" width="32" height="129" class="k"/><rect x="2512" y="1658" width="32" height="129" class="r"/>
</g>
<g class="t" transform="rotate(-90)" text-anchor="end">
<text x="-1665" y="198">J26</text><text x="-1665" y="258">L25</text><text x="-1665" y="318">G22</text><text x="-1665" y="378">J23</text><text x="-1665" y="438">J22</text><text x="-1665" y="498">AC20</text><text x="-1665" y="558">AA19</text><text x="-1665" y="618">AC17</text><text x="-1665" y="678">AA17</text><text x="-1665" y="738">W16</text><text x="-1665" y="798">AB15</text><text x="-1665" y="858">AC16</text><text x="-1665" y="918">AA15</text><text x="-1665" y="978">Y14</text><text x="-1665" y="1038">V14</text><text x="-1665" y="1098">V13</text><text x="-1665" y="1158">U13</text><text x="-1665" y="1218">AB11</text><text x="-1665" y="1278">AC12</text><text x="-1665" y="1338">AC11</text><text x="-1665" y="1398">AB10</text><text x="-1665" y="1458">AC9</text><text x="-1665" y="1518">AB9</text><text x="-1665" y="1578">V12</text><text x="-1665" y="1638">W11</text><text x="-1665" y="1698">Y8</text><text x="-1665" y="1758">W8</text><text x="-1665" y="1818">Y6</text><text x="-1665" y="1878">AA5</text><text x="-1665" y="1938">AC5</text><text x="-1665" y="1998">AA4</text><text x="-1665" y="2058">V10</text><text x="-1665" y="2118">U9</text><text x="-1665" y="2178">R5</text><text x="-1665" y="2238">T6</text><text x="-1665" y="2298">AF23</text><text x="-1665" y="2358">AD22</text><text x="-1665" y="2418">E21</text><text x="-1665" y="2478">GND</text><text x="-1665" y="2538">VCC3V3</text>
</g>

<!-- ===== ROW A ===== -->
<g>
<use href="#ps" x="188" y="1891"/><use href="#pg" x="248" y="1891"/><use href="#ps" x="308" y="1891"/><use href="#pg" x="368" y="1891"/><use href="#ps" x="428" y="1891"/><use href="#pg" x="488" y="1891"/><use href="#ps" x="548" y="1891"/><use href="#pg" x="608" y="1891"/><use href="#ps" x="668" y="1891"/><use href="#pg" x="728" y="1891"/><use href="#ps" x="788" y="1891"/><use href="#pg" x="848" y="1891"/><use href="#ps" x="908" y="1891"/><use href="#pg" x="968" y="1891"/><use href="#ps" x="1028" y="1891"/><use href="#pg" x="1088" y="1891"/><use href="#ps" x="1148" y="1891"/><use href="#pg" x="1208" y="1891"/><use href="#ps" x="1268" y="1891"/><use href="#pg" x="1328" y="1891"/><use href="#ps" x="1388" y="1891"/><use href="#pg" x="1448" y="1891"/><use href="#ps" x="1508" y="1891"/><use href="#pg" x="1568" y="1891"/><use href="#ps" x="1628" y="1891"/><use href="#pg" x="1688" y="1891"/><use href="#ps" x="1748" y="1891"/><use href="#pg" x="1808" y="1891"/><use href="#ps" x="1868" y="1891"/><use href="#pg" x="1928" y="1891"/><use href="#ps" x="1988" y="1891"/><use href="#pg" x="2048" y="1891"/><use href="#ps" x="2108" y="1891"/><use href="#pg" x="2168" y="1891"/><use href="#ps" x="2228" y="1891"/><use href="#ps" x="2288" y="1891"/><use href="#ps" x="2348" y="1891"/><use href="#pv" x="2408" y="1891"/><use href="#pg" x="2468" y="1891"/><use href="#pv" x="2528" y="1891"/>
</g>
<g>
<rect x="172" y="1922" width="32" height="129" class="b"/><rect x="232" y="1922" width="32" height="129" class="k"/><rect x="292" y="1922" width="32" height="129" class="b"/><rect x="352" y="1922" width="32" height="129" class="k"/><rect x="412" y="1922" width="32" height="129" class="b"/><rect x="472" y="1922" width="32" height="129" class="k"/><rect x="532" y="1922" width="32" height="129" class="b"/><rect x="592" y="1922" width="32" height="129" class="k"/><rect x="652" y="1922" width="32" height="129" class="b"/><rect x="712" y="1922" width="32" height="129" class="k"/><rect x="772" y="1922" width="32" height="129" class="b"/><rect x="832" y="1922" width="32" height="129" class="k"/><rect x="892" y="1922" width="32" height="129" class="b"/><rect x="952" y="1922" width="32" height="129" class="k"/><rect x="1012" y="1922" width="32" height="129" class="b"/><rect x="1072" y="1922" width="32" height="129" class="k"/><rect x="1132" y="1922" width="32" height="129" class="b"/><rect x="1192" y="1922" width="32" height="129" class="k"/><rect x="1252" y="1922" width="32" height="129" class="b"/><rect x="1312" y="1922" width="32" height="129" class="k"/><rect x="1372" y="1922" width="32" height="129" class="b"/><rect x="1432" y="1922" width="32" height="129" class="k"/><rect x="1492" y="1922" width="32" height="129" class="b"/><rect x="1552" y="1922" width="32" height="129" class="k"/><rect x="1612" y="1922" width="32" height="129" class="b"/><rect x="1672" y="1922" width="32" height="129" class="k"/><rect x="1732" y="1922" width="32" height="129" class="b"/><rect x="1792" y="1922" width="32" height="129" class="k"/><rect x="1852" y="1922" width="32" height="129" class="b"/><rect x="1912" y="1922" width="32" height="129" class="k"/><rect x="1972" y="1922" width="32" height="129" class="b"/><rect x="2032" y="1922" width="32" height="129" class="k"/><rect x="2092" y="1922" width="32" height="129" class="b"/><rect x="2152" y="1922" width="32" height="129" class="k"/><rect x="2212" y="1922" width="32" height="129" class="b"/><rect x="2272" y="1922" width="32" height="129" class="b"/><rect x="2332" y="1922" width="32" height="129" class="b"/><rect x="2392" y="1922" width="32" height="129" class="r"/><rect x="2452" y="1922" width="32" height="129" class="k"/><rect x="2512" y="1922" width="32" height="129" class="r"/>
</g>
<g class="t" transform="rotate(-90)" text-anchor="end">
<text x="-1928" y="198">J25</text><text x="-1928" y="258">GND</text><text x="-1928" y="318">H22</text><text x="-1928" y="378">GND</text><text x="-1928" y="438">K22</text><text x="-1928" y="498">GND</text><text x="-1928" y="558">Y18</text><text x="-1928" y="618">GND</text><text x="-1928" y="678">Y16</text><text x="-1928" y="738">GND</text><text x="-1928" y="798">AC14</text><text x="-1928" y="858">GND</text><text x="-1928" y="918">Y15</text><text x="-1928" y="978">GND</text><text x="-1928" y="1038">U15</text><text x="-1928" y="1098">GND</text><text x="-1928" y="1158">U12</text><text x="-1928" y="1218">GND</text><text x="-1928" y="1278">AA12</text><text x="-1928" y="1338">GND</text><text x="-1928" y="1398">Y10</text><text x="-1928" y="1458">GND</text><text x="-1928" y="1518">AA9</text><text x="-1928" y="1578">GND</text><text x="-1928" y="1638">V11</text><text x="-1928" y="1698">GND</text><text x="-1928" y="1758">W7</text><text x="-1928" y="1818">GND</text><text x="-1928" y="1878">AB5</text><text x="-1928" y="1938">GND</text><text x="-1928" y="1998">AA3</text><text x="-1928" y="2058">GND</text><text x="-1928" y="2118">T10</text><text x="-1928" y="2178">GND</text><text x="-1928" y="2238">T8</text><text x="-1928" y="2298">AF22</text><text x="-1928" y="2358">AE17</text><text x="-1928" y="2418">VCC3V3</text><text x="-1928" y="2478">GND</text><text x="-1928" y="2538">VCC3V3</text>
</g>
</svg>
</body></html>
